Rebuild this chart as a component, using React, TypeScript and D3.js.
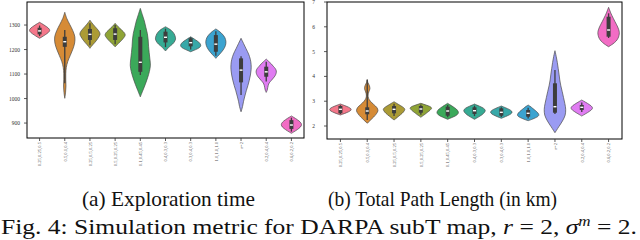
import React from "react";
import * as d3 from "d3";

const categories = [
  "0.25,0.25,0.5", "0.5,0.1,0.4", "0.25,0.5,0.25", "0.5,0.25,0.25", "0.1,0.45,0.45",
  "0.4,0.3,0.3", "0.3,0.4,0.3", "1.0,1.0,1.0", "r=2", "0.2,0.4,0.4", "0.6,0.2,0.2",
];
const colors = [
  "#f4778a", "#d68b36", "#ab9b35", "#8fa436", "#3ba95a", "#36ab94",
  "#38a8a8", "#3ba3d0", "#9a9bf2", "#e07cf2", "#f26cc4",
];

// Exploration time
const timeTicks = [900, 1000, 1100, 1200, 1300];
const timeMin = [1246, 1001, 1205, 1211, 1007, 1194, 1191, 1164, 946, 1025, 858];
const timeMax = [1311, 1352, 1320, 1307, 1368, 1293, 1252, 1284, 1246, 1161, 929];
const timeQ1 = [1262, 1211, 1239, 1239, 1109, 1229, 1213, 1191, 1066, 1089, 876];
const timeMed = [1276, 1232, 1262, 1263, 1148, 1250, 1228, 1222, 1116, 1109, 892];
const timeQ3 = [1289, 1252, 1284, 1287, 1252, 1273, 1246, 1259, 1164, 1130, 912];
const timeWLo = [1255, 1062, 1218, 1222, 1096, 1210, 1200, 1175, 1014, 1070, 865];
const timeWHi = [1298, 1280, 1307, 1300, 1280, 1285, 1250, 1275, 1173, 1150, 922];
const timeProfiles = [
  [0, 0.2, 0.38, 0.55, 0.72, 0.86, 0.96, 1, 0.96, 0.86, 0.72, 0.55, 0.38, 0.2, 0],
  [0, 0.08, 0.12, 0.1, 0.1, 0.15, 0.3, 0.55, 0.8, 0.98, 1.0, 0.8, 0.5, 0.2, 0],
  [0, 0.15, 0.32, 0.5, 0.66, 0.8, 0.92, 1, 0.95, 0.82, 0.65, 0.47, 0.3, 0.14, 0],
  [0, 0.15, 0.32, 0.5, 0.66, 0.8, 0.93, 1, 0.95, 0.82, 0.65, 0.47, 0.3, 0.14, 0],
  [0, 0.25, 0.5, 0.72, 0.9, 1.0, 0.95, 0.88, 0.82, 0.78, 0.7, 0.55, 0.4, 0.2, 0],
  [0, 0.15, 0.3, 0.5, 0.7, 0.85, 0.95, 1, 0.98, 0.93, 0.85, 0.72, 0.55, 0.3, 0],
  [0, 0.25, 0.5, 0.72, 0.88, 0.97, 1, 0.97, 0.9, 0.8, 0.66, 0.5, 0.34, 0.17, 0],
  [0, 0.18, 0.38, 0.56, 0.72, 0.85, 0.94, 0.99, 1, 0.96, 0.88, 0.74, 0.55, 0.3, 0],
  [0, 0.15, 0.25, 0.38, 0.52, 0.68, 0.82, 0.93, 1.0, 1.0, 0.92, 0.75, 0.5, 0.25, 0],
  [0, 0.1, 0.15, 0.2, 0.3, 0.5, 0.7, 0.88, 0.98, 1.0, 0.9, 0.7, 0.5, 0.25, 0],
  [0, 0.2, 0.4, 0.58, 0.75, 0.88, 0.97, 1, 0.97, 0.88, 0.75, 0.58, 0.4, 0.2, 0],
];

// Total path length (km)
const pathTicks = [2, 3, 4, 5, 6, 7];
const pathMin = [2.444, 2.109, 2.242, 2.351, 2.27, 2.27, 2.31, 2.214, 1.73, 2.403, 5.198];
const pathMax = [2.887, 3.883, 2.98, 2.915, 2.915, 2.887, 2.806, 2.847, 5.036, 3.048, 6.786];
const pathQ1 = [2.512, 2.472, 2.512, 2.536, 2.415, 2.484, 2.415, 2.375, 2.536, 2.645, 5.601];
const pathMed = [2.673, 2.605, 2.673, 2.685, 2.605, 2.617, 2.552, 2.512, 2.778, 2.754, 5.871];
const pathQ3 = [2.806, 2.754, 2.806, 2.806, 2.778, 2.754, 2.714, 2.645, 3.722, 2.847, 6.407];
const pathWLo = [2.48, 2.24, 2.4, 2.45, 2.35, 2.4, 2.36, 2.3, 2.484, 2.56, 5.548];
const pathWHi = [2.84, 3.85, 2.9, 2.87, 2.85, 2.82, 2.76, 2.74, 4.258, 2.95, 6.544];
const pathProfiles = [
  [0, 0.2, 0.4, 0.58, 0.75, 0.88, 0.97, 1, 0.97, 0.88, 0.75, 0.58, 0.4, 0.2, 0],
  [0, 0.3, 0.6, 0.85, 1.0, 0.9, 0.6, 0.3, 0.12, 0.08, 0.15, 0.25, 0.2, 0.06, 0],
  [0, 0.15, 0.3, 0.45, 0.6, 0.74, 0.86, 0.95, 1, 0.95, 0.8, 0.6, 0.4, 0.2, 0],
  [0, 0.12, 0.25, 0.38, 0.5, 0.62, 0.74, 0.85, 0.94, 1, 0.95, 0.8, 0.55, 0.28, 0],
  [0, 0.25, 0.5, 0.72, 0.88, 0.97, 1, 0.97, 0.9, 0.8, 0.66, 0.5, 0.34, 0.17, 0],
  [0, 0.18, 0.36, 0.52, 0.68, 0.8, 0.9, 0.97, 1, 0.96, 0.85, 0.68, 0.46, 0.22, 0],
  [0, 0.2, 0.4, 0.58, 0.75, 0.88, 0.97, 1, 0.97, 0.88, 0.75, 0.58, 0.4, 0.2, 0],
  [0, 0.3, 0.55, 0.78, 0.93, 1, 0.97, 0.9, 0.8, 0.68, 0.55, 0.42, 0.3, 0.15, 0],
  [0, 0.35, 0.7, 0.95, 1.0, 0.92, 0.8, 0.68, 0.55, 0.45, 0.38, 0.3, 0.22, 0.12, 0],
  [0, 0.18, 0.36, 0.54, 0.7, 0.85, 0.95, 1, 0.95, 0.85, 0.7, 0.54, 0.36, 0.18, 0],
  [0, 0.4, 0.7, 0.88, 0.97, 1.0, 0.95, 0.85, 0.72, 0.58, 0.45, 0.32, 0.2, 0.1, 0],
];

const SERIF = "'Liberation Serif', 'DejaVu Serif', serif";

type PanelProps = {
  x0: number; x1: number; y0: number; y1: number;
  domain: [number, number]; ticks: number[];
  mins: number[]; maxs: number[]; q1: number[]; med: number[]; q3: number[];
  wlo: number[]; whi: number[]; profiles: number[][]; labelX: number;
};

function Panel(p: PanelProps) {
  const x = d3.scaleBand<string>().domain(categories).range([p.x0, p.x1]);
  const y = d3.scaleLinear().domain(p.domain).range([p.y1, p.y0]);
  const hw = x.bandwidth() * 0.4;
  return (
    <g>
      {categories.map((c, i) => {
        const cx = (x(c) as number) + x.bandwidth() / 2;
        const prof = p.profiles[i];
        const n = prof.length;
        const pts = prof.map((w, k) => ({ v: p.mins[i] + ((p.maxs[i] - p.mins[i]) * k) / (n - 1), w }));
        const area = d3
          .area<{ v: number; w: number }>()
          .y((d) => y(d.v))
          .x0((d) => cx - d.w * hw)
          .x1((d) => cx + d.w * hw)
          .curve(d3.curveCatmullRom.alpha(0.5));
        return (
          <g key={c}>
            <path d={area(pts) as string} fill={colors[i]} stroke="#4a4a4a" strokeWidth={0.7} />
            <line x1={cx} x2={cx} y1={y(p.wlo[i])} y2={y(p.whi[i])} stroke="#3d3d3d" strokeWidth={1.3} />
            <rect x={cx - 2} width={4} y={y(p.q3[i])} height={y(p.q1[i]) - y(p.q3[i])} fill="#3d3d3d" />
            <rect x={cx - 1.5} width={3} y={y(p.med[i]) - 0.7} height={1.4} fill="#fff" />
          </g>
        );
      })}
      <rect x={p.x0} y={p.y0} width={p.x1 - p.x0} height={p.y1 - p.y0} fill="none" stroke="#000" strokeWidth={1} />
      {p.ticks.map((t) => (
        <g key={t}>
          <line x1={p.x0 - 3} x2={p.x0} y1={y(t)} y2={y(t)} stroke="#333" strokeWidth={0.8} />
          <text x={p.labelX} y={y(t) + 2} fontSize={5.5} textAnchor="end" fill="#333" style={{ fontFamily: SERIF }}>
            {t}
          </text>
        </g>
      ))}
      {categories.map((c) => {
        const cx = (x(c) as number) + x.bandwidth() / 2;
        return (
          <g key={"x" + c}>
            <line x1={cx} x2={cx} y1={p.y1} y2={p.y1 + 3} stroke="#333" strokeWidth={0.8} />
            <text
              transform={`translate(${cx + 1.8},${p.y1 + 4}) rotate(-90)`}
              fontSize={4.6}
              textAnchor="end"
              fill="#555"
              style={{ fontFamily: SERIF }}
            >
              {c}
            </text>
          </g>
        );
      })}
    </g>
  );
}

export default function App() {
  return (
    <svg width={640} height={240} style={{ position: "absolute", left: 0, top: 0, background: "#fff" }}>
      <Panel
        x0={27} x1={304} y0={2} y1={138} domain={[839, 1394]} ticks={timeTicks}
        mins={timeMin} maxs={timeMax} q1={timeQ1} med={timeMed} q3={timeQ3}
        wlo={timeWLo} whi={timeWHi} profiles={timeProfiles} labelX={20}
      />
      <Panel
        x0={327} x1={622} y0={2} y1={139} domain={[1.476, 7.0]} ticks={pathTicks}
        mins={pathMin} maxs={pathMax} q1={pathQ1} med={pathMed} q3={pathQ3}
        wlo={pathWLo} whi={pathWHi} profiles={pathProfiles} labelX={315}
      />
      <g style={{ fontFamily: SERIF }} fontSize={21} fill="#111">
        <text x={82} y={206} textLength={173} lengthAdjust="spacingAndGlyphs">(a) Exploration time</text>
        <text x={328} y={206} textLength={229} lengthAdjust="spacingAndGlyphs">(b) Total Path Length (in km)</text>
        <text x={1} y={234} textLength={636} lengthAdjust="spacingAndGlyphs">
          Fig. 4: Simulation metric for DARPA subT map, <tspan fontStyle="italic">r</tspan> = 2,{" "}
          <tspan fontStyle="italic">σ</tspan>
          <tspan fontStyle="italic" fontSize={14} dy={-8}>m</tspan>
          <tspan dy={8}> = 2.</tspan>
        </text>
      </g>
    </svg>
  );
}
